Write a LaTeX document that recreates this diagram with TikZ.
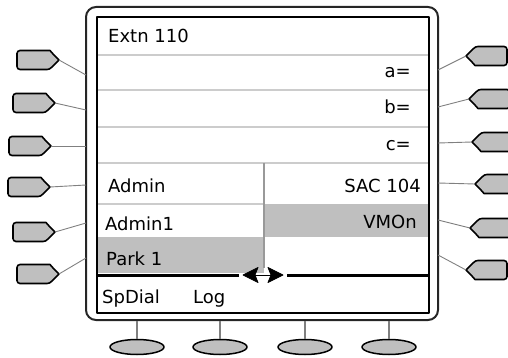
\documentclass[tikz,border=0pt]{standalone}
\usepackage{fontspec}
\setmainfont{DejaVu Sans}
\usetikzlibrary{shapes.geometric}

\begin{document}
\begin{tikzpicture}[x=1pt, y=-1pt, line join=round]
  \tikzstyle{bezel} = [draw=black!85, line width=2pt, rounded corners=10pt]
  \tikzstyle{screen} = [draw=black, line width=2pt]
  \tikzstyle{rowline} = [draw=black!20, line width=1.5pt]
  \tikzstyle{divider} = [draw=black!40, line width=1.2pt]
  \tikzstyle{barline} = [draw=black, line width=3pt]
  \tikzstyle{barhead} = [fill=black, draw=black, line width=0.8pt]
  \tikzstyle{phonekey} = [draw=black, line width=1.6pt, fill=black!25]
  \tikzstyle{softkey} = [ellipse, draw=black, line width=1.5pt, fill=black!25, minimum width=54pt, minimum height=15pt, inner sep=0pt]
  \tikzstyle{wire} = [draw=black!50, line width=0.9pt]
  \tikzstyle{stalk} = [draw=black!50, line width=2pt]
  \tikzstyle{lbl} = [font=\fontsize{18}{20}\selectfont, inner sep=0pt]

  \clip (0,0) rectangle (508,358);

  \fill[black!25] (97,237) rectangle (264,273);
  \fill[black!25] (264,204) rectangle (429,237);
  \foreach \y in {55,90,127,163}
    \path[rowline] (97,\y) -- (429,\y);
  \path[rowline] (97,204) -- (264,204);
  \path[divider] (264,163) -- (264,268);

  \coordinate (barl) at (97,275);
  \coordinate (barr) at (429,275);
  \coordinate (arrl) at (243,275);
  \coordinate (arrr) at (283,275);
  \path[barline] (barl) -- (239,275);
  \path[barline] (287,275) -- (barr);
  \draw[line width=1pt] (255,275) -- (271,275);
  \path[barhead] (arrl) -- (258,267.5) -- (255,275) -- (258,282.5) -- cycle;
  \path[barhead] (arrr) -- (268,267.5) -- (271,275) -- (268,282.5) -- cycle;

  \path[screen] (97,17) rectangle (429,313);
  \path[bezel] (86,7) rectangle (438,320);

  \node[lbl, anchor=base west] (extn) at (108,43) {Extn 110};
  \node[lbl, anchor=base east] (keya) at (411,78) {a=};
  \node[lbl, anchor=base east] (keyb) at (411,114) {b=};
  \node[lbl, anchor=base east] (keyc) at (411,150) {c=};
  \node[lbl, anchor=base west] (admin) at (108,192) {Admin};
  \node[lbl, anchor=base east] (sac) at (421,192) {SAC 104};
  \node[lbl, anchor=base west] (admin1) at (105,230) {Admin1};
  \node[lbl, anchor=base east] (vmon) at (417,228) {VMOn};
  \node[lbl, anchor=base west] (park) at (106,265) {Park 1};
  \node[lbl, anchor=base west] (spdial) at (102,303) {SpDial};
  \node[lbl, anchor=base west] (log) at (193,303) {Log};

  \foreach \x/\y/\f [count=\i] in {17/60/75, 13/103/110, 9/146/146, 8/187/185, 13/232/223, 17/274/258} {
    \path[phonekey] (\x+30,\y+9.5) [rounded corners=3pt] -- (\x,\y+9.5) -- (\x,\y-9.5) -- (\x+30,\y-9.5) [sharp corners]
      .. controls (\x+34,\y-9.5) and (\x+35,\y-6) .. (\x+37,\y-5) -- (\x+42,\y) -- (\x+37,\y+5)
      .. controls (\x+35,\y+6) and (\x+34,\y+9.5) .. cycle;
    \coordinate (lk\i) at (\x+42,\y);
    \coordinate (lf\i) at (86,\f);
    \path[wire] (lk\i) -- (lf\i);
  }

  \foreach \t/\y/\f [count=\i] in {466/56/70, 469/99/107, 472/142/143, 475/184/183, 470/228/220, 466/270/255} {
    \path[phonekey] (\t+12,\y-9.5) [rounded corners=3pt] -- (\t+41,\y-9.5) -- (\t+41,\y+9.5) -- (\t+12,\y+9.5) [sharp corners]
      .. controls (\t+8,\y+9.5) and (\t+7,\y+6) .. (\t+5,\y+5) -- (\t,\y) -- (\t+5,\y-5)
      .. controls (\t+7,\y-6) and (\t+8,\y-9.5) .. cycle;
    \coordinate (rk\i) at (\t,\y);
    \coordinate (rf\i) at (438,\f);
    \path[wire] (rf\i) -- (rk\i);
  }

  \foreach \x [count=\i] in {137,220,305,389} {
    \node[softkey] (sk\i) at (\x,347) {};
    \coordinate (sf\i) at (\x,321);
    \path[stalk] (sf\i) -- (sk\i);
  }
\end{tikzpicture}
\end{document}
